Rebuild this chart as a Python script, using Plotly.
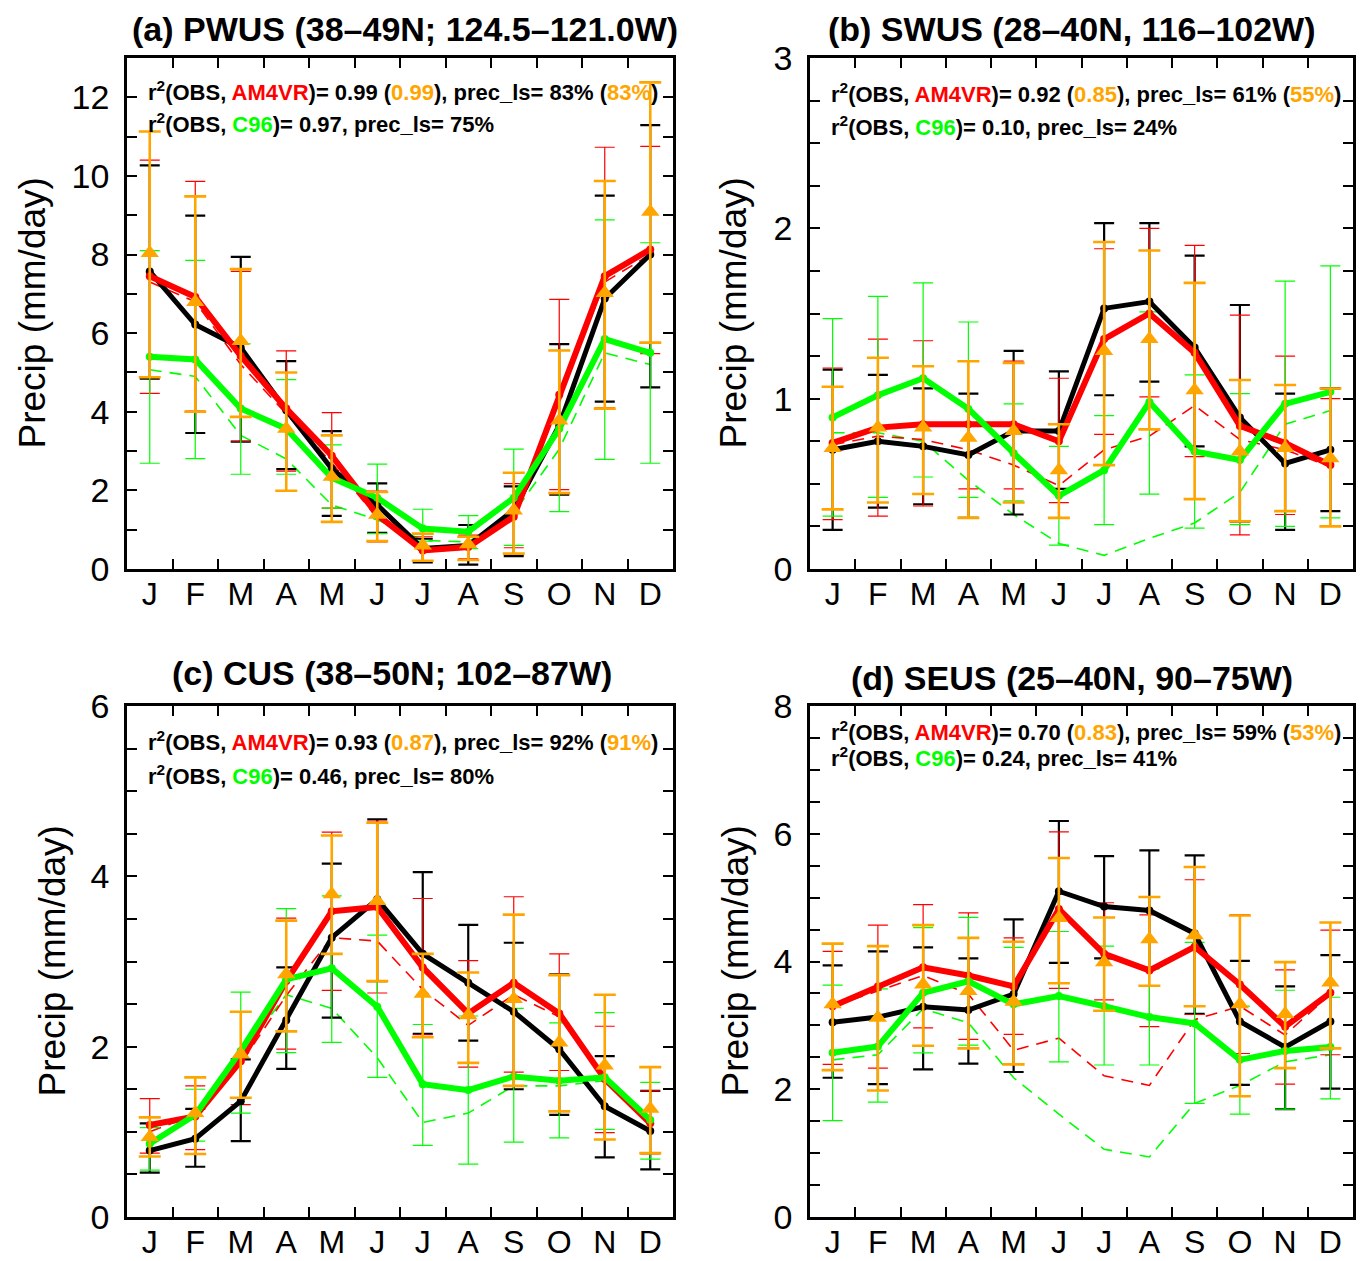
import plotly.graph_objects as go

months = ["J", "F", "M", "A", "M", "J", "J", "A", "S", "O", "N", "D"]
month_idx = list(range(12))
month_edges = [i + 0.5 for i in range(11)]

# ---------------- (a) PWUS ----------------
pwus_obs = [7.57, 6.22, 5.63, 4.04, 2.55, 1.63, 0.52, 0.60, 1.50, 3.65, 6.88, 8.00]
pwus_obs_hi = [10.27, 8.99, 7.94, 5.29, 3.51, 2.18, 0.77, 1.12, 2.10, 5.72, 9.50, 11.29]
pwus_obs_lo = [4.84, 3.46, 3.24, 2.54, 1.35, 0.92, 0.17, 0.11, 0.33, 1.89, 4.26, 4.62]
pwus_vr = [7.45, 6.92, 5.42, 4.08, 2.88, 1.38, 0.47, 0.56, 1.33, 4.43, 7.45, 8.13]
pwus_vr_hi = [10.40, 9.86, 7.57, 5.55, 3.98, 1.98, 0.82, 0.86, 2.17, 6.86, 10.73, 10.75]
pwus_vr_lo = [4.47, 4.02, 3.25, 2.49, 1.55, 0.69, 0.20, 0.26, 0.54, 2.02, 4.10, 5.48]
pwus_vr_ls = [7.30, 6.80, 5.20, 3.95, 2.70, 1.30, 0.50, 0.55, 1.35, 4.30, 7.30, 8.00]
pwus_c96 = [5.40, 5.33, 4.08, 3.57, 2.32, 1.81, 1.03, 0.95, 1.81, 3.57, 5.85, 5.50]
pwus_c96_hi = [8.10, 7.85, 5.73, 4.82, 3.16, 2.67, 1.52, 1.36, 3.05, 5.56, 8.88, 8.30]
pwus_c96_lo = [2.69, 2.81, 2.41, 2.41, 1.55, 0.90, 0.71, 0.52, 0.60, 1.46, 2.79, 2.69]
pwus_c96_ls = [5.07, 4.90, 3.40, 2.80, 1.63, 1.25, 0.73, 0.69, 1.42, 3.05, 5.50, 5.20]
pwus_alt = [8.04, 6.79, 5.80, 3.57, 2.35, 1.38, 0.60, 0.63, 1.49, 3.78, 7.02, 9.09]
pwus_alt_hi = [11.13, 9.48, 7.63, 5.00, 3.40, 1.96, 0.90, 0.82, 2.45, 5.56, 9.87, 12.38]
pwus_alt_lo = [4.88, 4.00, 3.87, 1.99, 1.20, 0.71, 0.21, 0.23, 0.39, 1.93, 4.08, 5.76]

# ---------------- (b) SWUS ----------------
swus_obs = [0.70, 0.75, 0.72, 0.67, 0.81, 0.81, 1.53, 1.57, 1.30, 0.89, 0.62, 0.70]
swus_obs_hi = [1.17, 1.14, 1.06, 1.03, 1.28, 1.16, 2.03, 2.03, 1.84, 1.55, 1.03, 1.06]
swus_obs_lo = [0.23, 0.36, 0.38, 0.30, 0.32, 0.47, 1.02, 1.10, 0.72, 0.28, 0.23, 0.34]
swus_vr = [0.74, 0.83, 0.85, 0.85, 0.85, 0.75, 1.35, 1.50, 1.27, 0.84, 0.74, 0.61]
swus_vr_hi = [1.18, 1.35, 1.34, 1.22, 1.22, 1.12, 1.88, 2.00, 1.90, 1.49, 1.25, 1.00]
swus_vr_lo = [0.29, 0.31, 0.37, 0.47, 0.47, 0.39, 0.79, 1.01, 0.66, 0.20, 0.32, 0.25]
swus_vr_ls = [0.73, 0.78, 0.76, 0.70, 0.61, 0.49, 0.70, 0.78, 0.96, 0.76, 0.70, 0.60]
swus_c96 = [0.89, 1.02, 1.12, 0.94, 0.68, 0.43, 0.58, 0.98, 0.69, 0.64, 0.97, 1.04]
swus_c96_hi = [1.47, 1.60, 1.68, 1.45, 0.97, 0.72, 0.90, 1.51, 1.14, 1.03, 1.69, 1.78]
swus_c96_lo = [0.31, 0.42, 0.54, 0.42, 0.40, 0.14, 0.26, 0.44, 0.24, 0.26, 0.25, 0.30]
swus_c96_ls = [0.80, 0.80, 0.75, 0.52, 0.32, 0.15, 0.08, 0.18, 0.27, 0.45, 0.85, 0.93]
swus_alt = [0.71, 0.83, 0.83, 0.77, 0.81, 0.58, 1.28, 1.35, 1.05, 0.69, 0.71, 0.65]
swus_alt_hi = [1.07, 1.24, 1.19, 1.22, 1.21, 0.85, 1.92, 1.87, 1.68, 1.11, 1.08, 1.06]
swus_alt_lo = [0.35, 0.39, 0.44, 0.30, 0.39, 0.30, 0.61, 0.82, 0.41, 0.28, 0.34, 0.25]

# ---------------- (c) CUS ----------------
cus_obs = [0.78, 0.92, 1.36, 2.31, 3.28, 3.73, 3.09, 2.75, 2.41, 1.97, 1.30, 1.01]
cus_obs_hi = [1.10, 1.27, 1.85, 2.93, 4.15, 4.67, 4.05, 3.43, 3.22, 2.85, 1.89, 1.48]
cus_obs_lo = [0.52, 0.59, 0.89, 1.74, 2.34, 2.77, 2.15, 2.07, 1.50, 1.20, 0.70, 0.56]
cus_vr = [1.08, 1.18, 1.83, 2.77, 3.59, 3.64, 2.93, 2.39, 2.75, 2.39, 1.62, 1.10]
cus_vr_hi = [1.39, 1.54, 2.41, 3.51, 4.52, 4.65, 3.74, 3.01, 3.76, 3.09, 2.24, 1.48]
cus_vr_lo = [0.75, 0.79, 1.32, 1.97, 2.66, 2.63, 2.14, 1.76, 1.70, 1.72, 0.99, 0.74]
cus_vr_ls = [1.00, 1.20, 1.80, 2.60, 3.28, 3.24, 2.67, 2.25, 2.61, 2.35, 1.60, 1.10]
cus_c96 = [0.86, 1.20, 1.95, 2.79, 2.92, 2.47, 1.56, 1.49, 1.65, 1.60, 1.64, 1.14]
cus_c96_hi = [1.05, 1.50, 2.64, 3.62, 3.77, 3.31, 2.26, 2.36, 2.45, 2.28, 2.40, 1.58]
cus_c96_lo = [0.55, 0.89, 1.22, 1.93, 2.05, 1.64, 0.84, 0.62, 0.88, 0.93, 1.03, 0.68]
cus_c96_ls = [0.85, 1.20, 1.90, 2.61, 2.45, 1.87, 1.11, 1.22, 1.54, 1.54, 1.60, 1.15]
cus_alt = [0.94, 1.22, 1.91, 2.85, 3.79, 3.71, 2.62, 2.37, 2.56, 2.05, 1.78, 1.27]
cus_alt_hi = [1.17, 1.64, 2.41, 3.48, 4.48, 4.63, 3.09, 2.87, 3.55, 2.84, 2.61, 1.76]
cus_alt_lo = [0.71, 0.74, 1.40, 2.18, 3.09, 2.77, 2.11, 1.81, 1.54, 1.24, 0.91, 0.75]

# ---------------- (d) SEUS ----------------
seus_obs = [3.05, 3.13, 3.29, 3.24, 3.49, 5.10, 4.86, 4.80, 4.44, 3.06, 2.66, 3.06]
seus_obs_hi = [3.94, 4.16, 4.22, 4.05, 4.66, 6.20, 5.65, 5.74, 5.66, 4.01, 3.61, 4.10]
seus_obs_lo = [2.18, 2.08, 2.31, 2.40, 2.27, 3.98, 4.05, 3.90, 3.18, 2.07, 1.69, 2.01]
seus_vr = [3.30, 3.61, 3.91, 3.78, 3.61, 4.82, 4.12, 3.86, 4.23, 3.64, 2.98, 3.51]
seus_vr_hi = [4.16, 4.57, 4.89, 4.76, 4.37, 6.03, 4.92, 4.73, 5.28, 4.73, 3.87, 4.49]
seus_vr_lo = [2.39, 2.33, 2.96, 2.78, 2.86, 3.58, 3.40, 2.98, 3.17, 2.56, 2.08, 2.54]
seus_vr_ls = [3.30, 3.54, 3.78, 3.49, 2.61, 2.80, 2.21, 2.06, 3.09, 3.30, 2.85, 3.49]
seus_c96 = [2.57, 2.67, 3.51, 3.69, 3.33, 3.46, 3.30, 3.13, 3.03, 2.46, 2.60, 2.66]
seus_c96_hi = [3.63, 3.57, 4.53, 4.69, 4.22, 4.47, 4.24, 3.88, 4.30, 3.30, 3.55, 3.44]
seus_c96_lo = [1.51, 1.80, 2.57, 2.69, 2.40, 2.43, 2.38, 2.38, 1.78, 1.61, 1.69, 1.85]
seus_c96_ls = [2.46, 2.54, 3.26, 3.04, 2.18, 1.61, 1.06, 0.94, 1.78, 2.06, 2.43, 2.54]
seus_alt = [3.33, 3.12, 3.64, 3.54, 3.37, 4.68, 3.99, 4.35, 4.41, 3.33, 3.18, 3.67]
seus_alt_hi = [4.28, 4.24, 4.57, 4.37, 4.31, 5.62, 4.69, 5.01, 5.48, 4.72, 3.99, 4.61]
seus_alt_lo = [2.30, 1.98, 2.68, 2.64, 2.39, 3.66, 3.23, 3.62, 3.30, 1.89, 2.33, 2.64]

titles = ["(a) PWUS (38\u201349N; 124.5\u2013121.0W)",
          "(b) SWUS (28\u201340N, 116\u2013102W)",
          "(c) CUS (38\u201350N; 102\u201387W)",
          "(d) SEUS (25\u201340N, 90\u201375W)"]
r2_vr = ["0.99", "0.92", "0.93", "0.70"]
r2_alt = ["0.99", "0.85", "0.87", "0.83"]
ls_vr = ["83%", "61%", "92%", "59%"]
ls_alt = ["83%", "55%", "91%", "53%"]
r2_c96 = ["0.97", "0.10", "0.46", "0.24"]
ls_c96 = ["75%", "24%", "80%", "41%"]
y_max = [13, 3, 6, 8]
y_major = [2, 1, 2, 2]
y_minor = [1, 0.25, 0.5, 0.5]

RED = "#ff0000"
GREEN = "#00ff00"
ORANGE = "#ffa500"
BLACK = "#000000"
FONT = "Liberation Sans, Arial, sans-serif"

panels = [
    (pwus_obs, pwus_obs_hi, pwus_obs_lo, pwus_vr, pwus_vr_hi, pwus_vr_lo, pwus_vr_ls,
     pwus_c96, pwus_c96_hi, pwus_c96_lo, pwus_c96_ls, pwus_alt, pwus_alt_hi, pwus_alt_lo),
    (swus_obs, swus_obs_hi, swus_obs_lo, swus_vr, swus_vr_hi, swus_vr_lo, swus_vr_ls,
     swus_c96, swus_c96_hi, swus_c96_lo, swus_c96_ls, swus_alt, swus_alt_hi, swus_alt_lo),
    (cus_obs, cus_obs_hi, cus_obs_lo, cus_vr, cus_vr_hi, cus_vr_lo, cus_vr_ls,
     cus_c96, cus_c96_hi, cus_c96_lo, cus_c96_ls, cus_alt, cus_alt_hi, cus_alt_lo),
    (seus_obs, seus_obs_hi, seus_obs_lo, seus_vr, seus_vr_hi, seus_vr_lo, seus_vr_ls,
     seus_c96, seus_c96_hi, seus_c96_lo, seus_c96_ls, seus_alt, seus_alt_hi, seus_alt_lo),
]

OFF = 8  # default page body margin
W, H = 1364 - OFF, 1261 - OFF
# plot frames in page pixels: (left, right, top, bottom)
frames = [(127, 673, 58, 569), (810, 1353, 58, 569),
          (127, 673, 706, 1217), (810, 1353, 706, 1217)]
title_pos = [(405, 29), (1072, 29), (392, 673), (1072, 678)]
ytitle_x = [32, 733, 52, 735]
text_rows = [(91, 123), (93, 126), (741, 775), (731, 757)]


def px(xp):
    return (xp - OFF) / W


def py(yp):
    return 1 - (yp - OFF) / H


def err(c, hi, lo, color, thick, width):
    return dict(type="data", symmetric=False,
                array=[h - v for h, v in zip(hi, c)],
                arrayminus=[v - l for v, l in zip(c, lo)],
                color=color, thickness=thick, width=width)


fig = go.Figure()
annotations = []
for k, p in enumerate(panels):
    (obs, obs_hi, obs_lo, vr, vr_hi, vr_lo, vr_ls,
     c96, c96_hi, c96_lo, c96_ls, alt, alt_hi, alt_lo) = p
    xa = "x" if k == 0 else f"x{k+1}"
    ya = "y" if k == 0 else f"y{k+1}"
    common = dict(x=month_idx, xaxis=xa, yaxis=ya, showlegend=False, hoverinfo="skip")
    # dashed large-scale lines
    fig.add_trace(go.Scatter(y=c96_ls, mode="lines",
                             line=dict(color=GREEN, width=1.6, dash="12px,8px"), **common))
    fig.add_trace(go.Scatter(y=vr_ls, mode="lines",
                             line=dict(color=RED, width=1.6, dash="12px,8px"), **common))
    # error bars
    fig.add_trace(go.Scatter(y=obs, mode="markers", marker=dict(size=1, opacity=0),
                             error_y=err(obs, obs_hi, obs_lo, BLACK, 2.2, 10), **common))
    fig.add_trace(go.Scatter(y=vr, mode="markers", marker=dict(size=1, opacity=0),
                             error_y=err(vr, vr_hi, vr_lo, RED, 1.2, 10), **common))
    fig.add_trace(go.Scatter(y=c96, mode="markers", marker=dict(size=1, opacity=0),
                             error_y=err(c96, c96_hi, c96_lo, GREEN, 1.2, 10), **common))
    # main lines
    fig.add_trace(go.Scatter(y=obs, mode="lines+markers", line=dict(color=BLACK, width=5),
                             marker=dict(size=8, color=BLACK), **common))
    fig.add_trace(go.Scatter(y=vr, mode="lines+markers", line=dict(color=RED, width=6),
                             marker=dict(size=8, color=RED), **common))
    fig.add_trace(go.Scatter(y=c96, mode="lines+markers", line=dict(color=GREEN, width=6),
                             marker=dict(size=8, color=GREEN), **common))
    # orange triangles
    fig.add_trace(go.Scatter(y=alt, mode="markers",
                             marker=dict(symbol="triangle-up", size=16, color=ORANGE),
                             error_y=err(alt, alt_hi, alt_lo, ORANGE, 2.6, 11), **common))

    l, r, t, b = frames[k]
    xkey = "xaxis" if k == 0 else f"xaxis{k+1}"
    ykey = "yaxis" if k == 0 else f"yaxis{k+1}"
    fig.layout[xkey] = dict(
        domain=[px(l), px(r)], anchor=ya, range=[-0.5, 11.5], automargin=False,
        tickmode="array", tickvals=month_idx, ticktext=months,
        ticks="inside", ticklen=0, tickcolor=BLACK,
        minor=dict(tickmode="array", tickvals=month_edges, ticks="inside",
                   ticklen=10, tickwidth=1.5, tickcolor=BLACK, showgrid=False),
        showline=True, linecolor=BLACK, linewidth=2.5, mirror="ticks",
        showgrid=False, zeroline=False, fixedrange=True,
        ticklabelstandoff=-5,
        tickfont=dict(family=FONT, size=32, color=BLACK))
    fig.layout[ykey] = dict(
        domain=[py(b), py(t)], anchor=xa, range=[0, y_max[k]], automargin=False,
        tickmode="linear", tick0=0, dtick=y_major[k],
        ticks="inside", ticklen=10, tickwidth=1.5, tickcolor=BLACK,
        minor=dict(tickmode="linear", tick0=0, dtick=y_minor[k], ticks="inside",
                   ticklen=10, tickwidth=1.5, tickcolor=BLACK, showgrid=False),
        showline=True, linecolor=BLACK, linewidth=2.5, mirror="ticks",
        showgrid=False, zeroline=False, fixedrange=True,
        ticklabelstandoff=8,
        tickfont=dict(family=FONT, size=34, color=BLACK))

    tx, ty = title_pos[k]
    annotations.append(dict(text=f"<b>{titles[k]}</b>", x=px(tx), y=py(ty),
                            xref="paper", yref="paper", xanchor="center", yanchor="middle",
                            showarrow=False, font=dict(family=FONT, size=34, color=BLACK)))
    annotations.append(dict(text="Precip (mm/day)", x=px(ytitle_x[k]), y=py((t + b) / 2),
                            xref="paper", yref="paper", xanchor="center", yanchor="middle",
                            textangle=-90, showarrow=False,
                            font=dict(family=FONT, size=37, color=BLACK)))
    line1 = (f"<b>r<sup>2</sup>(OBS, <span style='color:{RED}'>AM4VR</span>)= {r2_vr[k]} "
             f"(<span style='color:{ORANGE}'>{r2_alt[k]}</span>), prec_ls= {ls_vr[k]} "
             f"(<span style='color:{ORANGE}'>{ls_alt[k]}</span>)</b>")
    line2 = (f"<b>r<sup>2</sup>(OBS, <span style='color:{GREEN}'>C96</span>)= {r2_c96[k]}, "
             f"prec_ls= {ls_c96[k]}</b>")
    y1, y2 = text_rows[k]
    for txt, yy in ((line1, y1), (line2, y2)):
        annotations.append(dict(text=txt, x=px(l + 19), y=py(yy),
                                xref="paper", yref="paper", xanchor="left", yanchor="middle",
                                showarrow=False, font=dict(family=FONT, size=22, color=BLACK)))

fig.update_layout(width=W, height=H, margin=dict(l=0, r=0, t=0, b=0, autoexpand=False),
                  plot_bgcolor="white", paper_bgcolor="white",
                  annotations=annotations, showlegend=False)

fig.write_html("out.html")
